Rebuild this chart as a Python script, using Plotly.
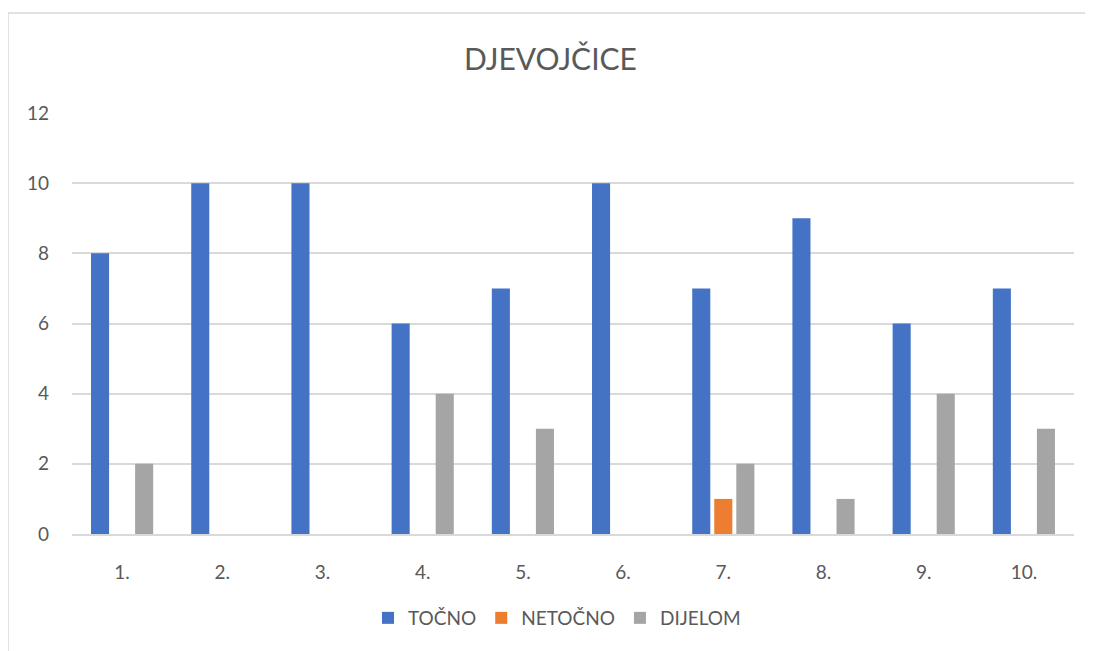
import plotly.graph_objects as go

categories = ["1.", "2.", "3.", "4.", "5.", "6.", "7.", "8.", "9.", "10."]
tocno = [8, 10, 10, 6, 7, 10, 7, 9, 6, 7]
netocno = [0, 0, 0, 0, 0, 0, 1, 0, 0, 0]
dijelom = [2, 0, 0, 4, 3, 0, 2, 1, 4, 3]
y_ticks = [0, 2, 4, 6, 8, 10, 12]

series = [("TOČNO", tocno, "#4472C4"), ("NETOČNO", netocno, "#ED7D31"), ("DIJELOM", dijelom, "#A5A5A5")]

fig = go.Figure()
for name, vals, col in series:
    fig.add_trace(go.Bar(x=categories, y=vals, name=name, marker=dict(color=col, line=dict(width=0))))

# page has an 8px body margin, so the figure is sized and offset to compensate
OFF = 8
W, H = 1093 - OFF, 651 - OFF
L, R, T = 72 - OFF, 19, 113 - OFF
ph = 421
B = H - T - ph
pw = W - L - R
bx = (8 - OFF - L) / pw
by = (534 - 13) / ph

fig.update_layout(
    width=W, height=H,
    margin=dict(l=L, r=R, t=T, b=B),
    paper_bgcolor="white", plot_bgcolor="white",
    barmode="group", bargap=0.34, bargroupgap=0.18,
    font=dict(family="Lato, Open Sans, sans-serif", color="#595959", size=19),
    title=dict(text="DJEVOJČICE", x=0.5, xanchor="center", y=1 - (59 - OFF) / H, yanchor="middle",
               font=dict(size=30, color="#595959", family="Lato, Open Sans, sans-serif")),
    legend=dict(orientation="h", x=0.5 - 16 / pw, xanchor="center", y=-(618 - 534) / ph, yanchor="middle",
                font=dict(size=19, color="#595959"), traceorder="normal", itemwidth=30),
    showlegend=True,
    xaxis=dict(showgrid=False, showline=True, linecolor="#D9D9D9", linewidth=1.5,
               ticks="", ticklabelstandoff=20, tickfont=dict(size=19, color="#595959")),
    yaxis=dict(range=[0, 12], tickvals=y_ticks, showgrid=True, gridcolor="#D9D9D9", gridwidth=1.5,
               zeroline=False, showline=False, ticks="", ticklabelstandoff=22,
               tickfont=dict(size=19, color="#595959")),
    shapes=[
        dict(type="line", xref="paper", yref="paper", x0=bx, x1=bx, y0=-0.5, y1=by,
             line=dict(color="#D9D9D9", width=1.5)),
        dict(type="line", xref="paper", yref="paper", x0=bx, x1=1.2, y0=by, y1=by,
             line=dict(color="#D9D9D9", width=1.5)),
    ],
)

fig.write_html("out.html")
